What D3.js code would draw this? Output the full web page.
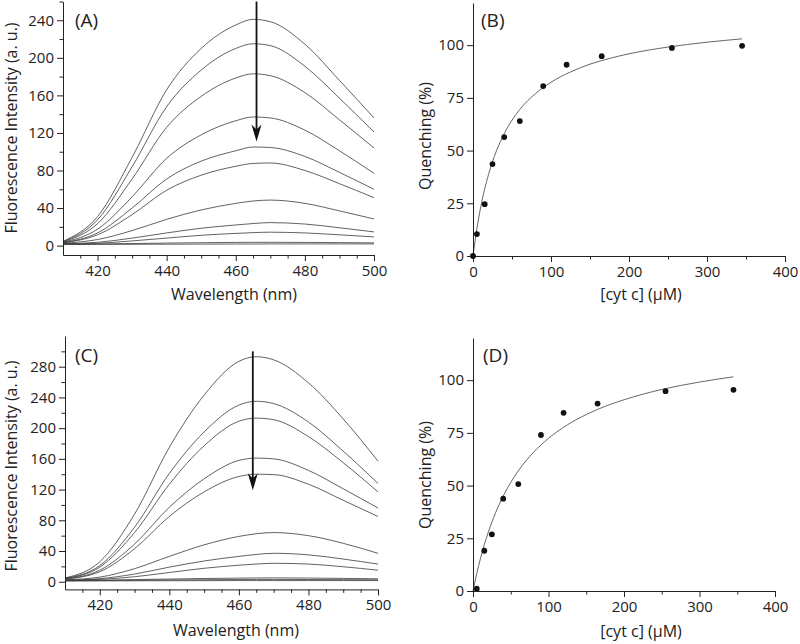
<!DOCTYPE html>
<html>
<head>
<meta charset="utf-8">
<style>
body { margin: 0; background: #fff; }
svg { display: block; font-family: "Open Sans", sans-serif; }
.axis path, .axis line { stroke: #222; stroke-width: 1; }
.axis text { font-size: 15px; fill: #222; font-family: "Open Sans", sans-serif; }
.title { font-size: 16px; fill: #222; }
.tag { font-size: 19px; fill: #222; }
.spec { fill: none; stroke: #3a3a3a; stroke-width: 0.8; }
.fit { fill: none; stroke: #555; stroke-width: 0.9; }
</style>
</head>
<body>
<svg id="chart" width="800" height="644"></svg>
<script src="https://d3js.org/d3.v7.min.js"></script>
<script>
var wavelengths = [410, 420, 430, 440, 450, 460, 465, 470, 480, 490, 500];

// panel A spectra, top to bottom
var spectraA = [
    [4.6, 30.9, 94, 166, 210, 235, 241, 238.5, 214.5, 176, 136],
    [4.1, 27.5, 84, 148, 187, 210, 215, 213, 191, 157, 121],
    [3.9, 23.4, 71, 126, 159, 178.5, 183, 181, 163, 134, 104],
    [3.5, 17.5, 52, 93, 118, 133, 137, 136, 123, 101, 77],
    [3.2, 13.5, 40, 71, 90, 101, 105, 104.5, 95, 78, 60],
    [3, 11.5, 33, 59, 75, 84.5, 87.5, 88, 80, 66, 51],
    [2.5, 6.5, 16, 28, 38, 45, 47.5, 48.5, 45, 37, 28.4],
    [2, 3.5, 8, 13.5, 18.5, 22, 23.5, 24.5, 23, 19, 14.6],
    [1.8, 2.5, 5, 8, 11, 13, 13.8, 14.3, 13.5, 11.5, 9.3],
    [1.5, 1.8, 2.2, 2.7, 3.1, 3.4, 3.5, 3.5, 3.4, 3.2, 2.9],
    [1.2, 1.3, 1.4, 1.5, 1.6, 1.7, 1.7, 1.8, 1.8, 1.8, 1.8]
];

// panel C spectra, top to bottom
var spectraC = [
    [5, 26, 88, 175, 243, 287, 293, 289, 259, 212, 157],
    [4.5, 21, 71, 141, 195, 230, 235, 232, 208, 170, 128],
    [4, 19, 64, 127, 177, 209, 213, 211, 189, 155, 117],
    [3.5, 15, 49, 97, 134, 158, 161, 160, 145, 121, 96],
    [3.5, 13, 43, 85, 117, 137, 140, 139.5, 127, 106, 85],
    [2.5, 6, 17, 33, 48, 59, 62.5, 64, 60, 50, 37],
    [2, 4, 10, 19, 27, 33, 35.5, 37, 35, 29.5, 23],
    [1.8, 3, 6.5, 12, 17.5, 21.5, 23, 24, 23, 19.5, 15],
    [1.5, 2, 2.8, 3.5, 4.2, 4.7, 4.9, 5, 4.8, 4.3, 3.8],
    [1.2, 1.5, 1.9, 2.3, 2.6, 2.9, 3, 3, 2.9, 2.7, 2.5],
    [1, 1.1, 1.2, 1.3, 1.4, 1.5, 1.5, 1.5, 1.5, 1.5, 1.5]
];

// arrows: wavelength, start value, tip value
var arrowA = [466, 260, 111];
var arrowC = [464, 300, 119];

// quenching data
var concB = [0, 5, 15, 25, 40, 60, 90, 120, 165, 255, 345];
var quenchB = [0, 10.4, 24.6, 43.6, 56.4, 64, 80.6, 90.7, 94.8, 98.7, 99.7];
var concD = [5, 15, 25, 40, 60, 90, 120, 165, 255, 345];
var quenchD = [1.1, 19.1, 26.9, 43.8, 50.7, 74, 84.5, 88.9, 94.8, 95.4];

// fitted binding curves
var fitConc = [0, 5, 10, 20, 30, 40, 60, 80, 100, 125, 150, 175, 200, 250, 300, 345];
var fitB = [0, 13, 23.4, 38.8, 49.8, 58, 69.5, 77, 82.4, 87.3, 91, 93.7, 95.9, 99.1, 101.4, 103];
var fitD = [0, 8.3, 15.6, 27.6, 37.2, 45, 57, 65.7, 72.4, 78.8, 83.7, 87.6, 90.7, 95.6, 99.1, 101.6];

// tick labels
var wlTicks = [420, 440, 460, 480, 500];
var intTicksA = [0, 40, 80, 120, 160, 200, 240];
var intTicksC = [0, 40, 80, 120, 160, 200, 240, 280];
var concTicks = [0, 100, 200, 300, 400];
var quenchTicks = [0, 25, 50, 75, 100];

var svg = d3.select("#chart");

function axes(g, x, y, xt, xminor, yt, yminor) {
    var bottom = y.range()[0];
    g.append("g").attr("class", "axis")
        .attr("transform", "translate(0," + bottom + ")")
        .call(d3.axisBottom(x).tickValues(xt).tickSize(6).tickSizeOuter(0).tickPadding(4).tickFormat(d3.format("d")));
    g.append("g").attr("class", "axis minor")
        .attr("transform", "translate(0," + bottom + ")")
        .call(d3.axisBottom(x).tickValues(xminor).tickSize(3.5).tickFormat(""))
        .select(".domain").remove();
    var left = x.range()[0];
    g.append("g").attr("class", "axis")
        .attr("transform", "translate(" + left + ",0)")
        .call(d3.axisLeft(y).tickValues(yt).tickSize(6).tickSizeOuter(0).tickPadding(3).tickFormat(d3.format("d")));
    if (yminor.length) {
        g.append("g").attr("class", "axis minor")
            .attr("transform", "translate(" + left + ",0)")
            .call(d3.axisLeft(y).tickValues(yminor).tickSize(3.5).tickFormat(""))
            .select(".domain").remove();
    }
    g.selectAll(".axis text").attr("fill", "#222");
}

function spectraPanel(x, y, data, arrow, tag, tagPos, ylabPos, xlabPos, yt, yminor) {
    var g = svg.append("g");
    var line = d3.line()
        .x(function(d, i) { return x(wavelengths[i]); })
        .y(function(d) { return y(d); })
        .curve(d3.curveMonotoneX);

    g.selectAll(".spec")
        .data(data)
        .enter().append("path")
        .attr("class", "spec")
        .attr("d", line);

    axes(g, x, y, wlTicks, d3.range(415, 500, 5).filter(function(v) { return v % 20 != 0; }), yt, yminor);

    // arrow
    var ax = x(arrow[0]), y0 = y(arrow[1]), y1 = y(arrow[2]);
    g.append("line")
        .attr("x1", ax).attr("x2", ax)
        .attr("y1", y0).attr("y2", y1 - 8)
        .attr("stroke", "#111").attr("stroke-width", 1.8);
    g.append("path")
        .attr("d", "M" + ax + "," + y1 + "L" + (ax - 5) + "," + (y1 - 17) +
            "L" + ax + "," + (y1 - 12) + "L" + (ax + 5) + "," + (y1 - 17) + "Z")
        .attr("fill", "#111");

    g.append("text").attr("class", "tag")
        .attr("x", tagPos[0]).attr("y", tagPos[1]).attr("dy", "0.35em")
        .text(tag);
    g.append("text").attr("class", "title")
        .attr("transform", "translate(" + ylabPos[0] + "," + ylabPos[1] + ") rotate(-90)")
        .attr("text-anchor", "middle").attr("dy", "0.35em")
        .text("Fluorescence Intensity (a. u.)");
    g.append("text").attr("class", "title")
        .attr("x", xlabPos[0]).attr("y", xlabPos[1])
        .attr("text-anchor", "middle").attr("dy", "0.35em")
        .text("Wavelength (nm)");
}

function quenchPanel(x, y, conc, quench, fit, tag, tagPos, ylabPos, xlabPos) {
    var g = svg.append("g");
    var line = d3.line()
        .x(function(d, i) { return x(fitConc[i]); })
        .y(function(d) { return y(d); })
        .curve(d3.curveMonotoneX);

    g.append("path").attr("class", "fit").attr("d", line(fit));

    axes(g, x, y, concTicks, [50, 150, 250, 350], quenchTicks, []);

    g.selectAll(".dot")
        .data(quench)
        .enter().append("circle")
        .attr("cx", function(d, i) { return x(conc[i]); })
        .attr("cy", function(d) { return y(d); })
        .attr("r", 2.9)
        .attr("fill", "#111");

    g.append("text").attr("class", "tag")
        .attr("x", tagPos[0]).attr("y", tagPos[1]).attr("dy", "0.35em")
        .text(tag);
    g.append("text").attr("class", "title")
        .attr("transform", "translate(" + ylabPos[0] + "," + ylabPos[1] + ") rotate(-90)")
        .attr("text-anchor", "middle").attr("dy", "0.35em")
        .text("Quenching (%)");
    g.append("text").attr("class", "title")
        .attr("x", xlabPos[0]).attr("y", xlabPos[1])
        .attr("text-anchor", "middle").attr("dy", "0.35em")
        .text("[cyt c] (\u03bcM)");
}

// (A)
var xA = d3.scaleLinear().domain([410, 500]).range([63, 374]);
var yA = d3.scaleLinear().domain([-10, 260]).range([255, 1.5]);
spectraPanel(xA, yA, spectraA, arrowA, "(A)", [75, 20], [11, 128], [234, 294],
    intTicksA, [20, 60, 100, 140, 180, 220, 260]);

// (C)
var xC = d3.scaleLinear().domain([410, 500]).range([65, 378]);
var yC = d3.scaleLinear().domain([-10, 320]).range([589.4, 336]);
spectraPanel(xC, yC, spectraC, arrowC, "(C)", [75, 355], [11, 466], [236, 630],
    intTicksC, [20, 60, 100, 140, 180, 220, 260, 300]);

// (B)
var xB = d3.scaleLinear().domain([0, 400]).range([473, 785]);
var yB = d3.scaleLinear().domain([0, 120]).range([256, 3]);
quenchPanel(xB, yB, concB, quenchB, fitB, "(B)", [481, 20], [425, 136], [641, 294]);

// (D)
var xD = d3.scaleLinear().domain([0, 400]).range([473, 775]);
var yD = d3.scaleLinear().domain([0, 120]).range([591, 338]);
quenchPanel(xD, yD, concD, quenchD, fitD, "(D)", [483, 355], [425, 475], [641, 631]);
</script>
</body>
</html>
